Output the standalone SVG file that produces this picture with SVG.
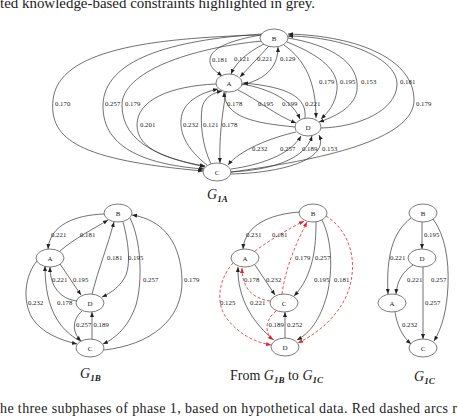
<svg xmlns="http://www.w3.org/2000/svg" width="458" height="419" viewBox="0 0 458 419">
<style>
text{font-family:"Liberation Serif","Times New Roman",serif;fill:#222}
.e{fill:none;stroke:#333;stroke-width:0.7}
.r{fill:none;stroke:#e52222;stroke-width:0.8;stroke-dasharray:3 2}
.n{fill:#fff;stroke:#444;stroke-width:0.7}
.nl{font-size:7px;text-anchor:middle}
.l{font-size:6.8px}
.lr{font-size:6.8px;fill:#e52222}
.g{font-size:14px;font-style:italic}
.s{font-size:9px;font-style:italic;font-weight:bold}
.cap{font-size:14px}
</style>
<defs>
<marker id="ah" viewBox="0 0 10 10" refX="10" refY="5" markerWidth="5" markerHeight="5" markerUnits="userSpaceOnUse" orient="auto"><path d="M0,1 L10,5 L0,9 z" fill="#222"/></marker>
<marker id="ahr" viewBox="0 0 10 10" refX="10" refY="5" markerWidth="5" markerHeight="5" markerUnits="userSpaceOnUse" orient="auto"><path d="M0,1 L10,5 L0,9 z" fill="#e52222"/></marker>
</defs>
<text class="cap" x="0" y="8" textLength="315" lengthAdjust="spacingAndGlyphs">ted knowledge-based constraints highlighted in grey.</text>
<text class="cap" x="0" y="413" textLength="457" lengthAdjust="spacing">he three subphases of phase 1, based on hypothetical data. Red dashed arcs r</text>

<g id="connectors">
<!-- G1A -->
<g marker-end="url(#ah)">
<path class="e" d="M261,35 C150,38 58,50 53,100 C49,140 80,160 203,171"/>
<path class="e" d="M262,34 C170,40 104,60 103,105 C102,150 150,165 204,169"/>
<path class="e" d="M262,41 C190,48 122,72 122,105 C122,145 165,158 205,167"/>
<path class="e" d="M216,84 C170,86 137,100 137,125 C137,150 170,160 205,166"/>
<path class="e" d="M207,165 C188,150 180,135 181,120 C182,102 200,93 218,89"/>
<path class="e" d="M211,164 C202,145 200,122 202,108 C204,98 212,93 222,91"/>
<path class="e" d="M226,92 C222,115 219,140 220,163"/>
<path class="e" d="M261,35 C232,40 208,48 210,62 C211,69 217,72 222,76"/>
<path class="e" d="M264,44 C248,52 236,62 231,74"/>
<path class="e" d="M269,46 L240,77"/>
<path class="e" d="M242,85 C262,80 278,70 278,47"/>
<path class="e" d="M284,45 C305,60 316,82 316,118"/>
<path class="e" d="M287,42 C320,55 339,70 337,90 C335,105 328,112 321,119"/>
<path class="e" d="M288,38 C330,45 360,62 357,90 C355,105 340,115 319,122"/>
<path class="e" d="M321,128 C360,127 396,110 397,85 C398,55 335,36 288,36"/>
<path class="e" d="M231,172 C320,160 414,140 414,100 C414,60 360,36 288,34"/>
<path class="e" d="M295,127 C255,123 225,118 224,92"/>
<path class="e" d="M238,90 C258,100 275,115 296,123"/>
<path class="e" d="M242,84 C270,89 292,100 300,119"/>
<path class="e" d="M305,118 C307,98 290,87 243,83"/>
<path class="e" d="M296,132 C270,138 240,150 228,165"/>
<path class="e" d="M231,169 C260,165 290,155 301,136"/>
<path class="e" d="M231,172 C270,170 305,160 312,136"/>
<path class="e" d="M231,174 C280,173 330,160 319,135"/>
</g>
<g class="l">
<text x="55" y="106">0.170</text>
<text x="105" y="106">0.257</text>
<text x="125" y="106">0.179</text>
<text x="140" y="127">0.201</text>
<text x="183" y="127">0.232</text>
<text x="203" y="127">0.121</text>
<text x="222" y="127">0.178</text>
<text x="212" y="62">0.181</text>
<text x="234" y="61">0.121</text>
<text x="257" y="61">0.221</text>
<text x="280" y="61">0.129</text>
<text x="319" y="84">0.179</text>
<text x="340" y="84">0.195</text>
<text x="361" y="84">0.153</text>
<text x="400" y="84">0.181</text>
<text x="416" y="106">0.179</text>
<text x="227" y="106">0.178</text>
<text x="258" y="106">0.195</text>
<text x="282" y="106">0.199</text>
<text x="305" y="106">0.221</text>
<text x="252" y="151">0.232</text>
<text x="280" y="151">0.257</text>
<text x="302" y="151">0.189</text>
<text x="322" y="151">0.153</text>
</g>

<!-- G1B -->
<g marker-end="url(#ah)">
<path class="e" d="M104,214 C75,215 50,225 48,249"/>
<path class="e" d="M60,251 C75,238 95,228 108,220"/>
<path class="e" d="M92,294 C98,270 108,245 114,222"/>
<path class="e" d="M123,222 C128,240 131,262 126,275 C121,286 111,293 102,297"/>
<path class="e" d="M130,218 C141,240 143,280 136,305 C129,326 116,338 103,344"/>
<path class="e" d="M104,350 C150,345 183,320 182,280 C181,245 165,220 132,215"/>
<path class="e" d="M77,301 C60,299 50,286 50,267"/>
<path class="e" d="M60,264 L81,295"/>
<path class="e" d="M37,261 C25,275 22,300 32,318 C42,333 60,340 77,344"/>
<path class="e" d="M80,341 C60,330 45,310 45,266"/>
<path class="e" d="M82,311 C72,320 72,332 81,341"/>
<path class="e" d="M92,339 L92,312"/>
</g>
<g class="l">
<text x="51" y="237">0.221</text>
<text x="80" y="237">0.181</text>
<text x="107" y="260">0.181</text>
<text x="128" y="260">0.195</text>
<text x="143" y="282">0.257</text>
<text x="184" y="282">0.179</text>
<text x="52" y="282">0.221</text>
<text x="73" y="282">0.195</text>
<text x="28" y="305">0.232</text>
<text x="57" y="305">0.178</text>
<text x="76" y="327">0.257</text>
<text x="93.5" y="327">0.189</text>
</g>

<!-- middle -->
<g marker-end="url(#ah)">
<path class="e" d="M300,212 C270,214 245,225 243,249"/>
<path class="e" d="M316,222 C316,245 314,275 294,296"/>
<path class="e" d="M322,220 C332,240 333,270 327,295 C320,320 310,333 297,340"/>
<path class="e" d="M255,265 L275,295"/>
<path class="e" d="M274,340 C255,325 237,300 238,267"/>
<path class="e" d="M285,338 L285,312"/>
</g>
<g marker-end="url(#ahr)">
<path class="r" d="M255,251 C270,240 290,228 304,221"/>
<path class="r" d="M282,294 C285,270 295,245 307,222"/>
<path class="r" d="M326,216 C345,228 355,250 352,275 C349,305 325,330 298,343"/>
<path class="r" d="M270,301 C255,299 242,290 242,268"/>
<path class="r" d="M233,263 C218,280 215,305 228,320 C240,335 255,342 271,345"/>
<path class="r" d="M276,311 C265,320 264,332 273,340"/>
</g>
<g class="l">
<text x="246" y="237">0.231</text>
<text x="315" y="260">0.257</text>
<text x="314" y="282">0.195</text>
<text x="266" y="282">0.232</text>
<text x="250" y="305">0.221</text>
<text x="287" y="327">0.252</text>
</g>
<g class="lr">
<text x="272" y="237">0.181</text>
<text x="295" y="260">0.179</text>
<text x="334" y="282">0.181</text>
<text x="244" y="282">0.178</text>
<text x="220" y="305">0.125</text>
<text x="268.5" y="327">0.189</text>
</g>

<!-- G1C -->
<g marker-end="url(#ah)">
<path class="e" d="M422,222 L422,249"/>
<path class="e" d="M411,218 C393,232 386,255 388,294"/>
<path class="e" d="M413,265 C402,272 397,282 396,294"/>
<path class="e" d="M423,267 L423,339"/>
<path class="e" d="M433,219 C445,235 449,260 448,285 C447,310 442,328 434,341"/>
<path class="e" d="M395,312 C397,325 402,336 411,344"/>
</g>
<g class="l">
<text x="424" y="237">0.195</text>
<text x="390" y="260">0.221</text>
<text x="407" y="282">0.221</text>
<text x="425" y="305">0.257</text>
<text x="431" y="282">0.257</text>
<text x="402" y="327">0.232</text>
</g>
</g>

<!-- G1A nodes -->
<g id="g1a-B"><ellipse class="n" cx="274" cy="38" rx="14" ry="9"/><text class="nl" x="274" y="40.5">B</text></g>
<g id="g1a-A"><ellipse class="n" cx="229" cy="83" rx="13" ry="9"/><text class="nl" x="229" y="85.5">A</text></g>
<g id="g1a-D"><ellipse class="n" cx="308" cy="127" rx="13" ry="9"/><text class="nl" x="308" y="129.5">D</text></g>
<g id="g1a-C"><ellipse class="n" cx="217" cy="172" rx="14" ry="9"/><text class="nl" x="217" y="174.5">C</text></g>
<!-- G1B nodes -->
<g id="g1b-B"><ellipse class="n" cx="118" cy="213" rx="14" ry="9"/><text class="nl" x="118" y="215.5">B</text></g>
<g id="g1b-A"><ellipse class="n" cx="50" cy="258" rx="14" ry="9"/><text class="nl" x="50" y="260.5">A</text></g>
<g id="g1b-D"><ellipse class="n" cx="90" cy="303" rx="14" ry="9"/><text class="nl" x="90" y="305.5">D</text></g>
<g id="g1b-C"><ellipse class="n" cx="90" cy="348" rx="14" ry="9"/><text class="nl" x="90" y="350.5">C</text></g>
<!-- middle nodes -->
<g id="mid-B"><ellipse class="n" cx="313" cy="213" rx="14" ry="9"/><text class="nl" x="313" y="215.5">B</text></g>
<g id="mid-A"><ellipse class="n" cx="245" cy="258" rx="14" ry="9"/><text class="nl" x="245" y="260.5">A</text></g>
<g id="mid-C"><ellipse class="n" cx="284" cy="303" rx="14" ry="9"/><text class="nl" x="284" y="305.5">C</text></g>
<g id="mid-D"><ellipse class="n" cx="285" cy="347" rx="14" ry="9"/><text class="nl" x="285" y="349.5">D</text></g>
<!-- G1C nodes -->
<g id="g1c-B"><ellipse class="n" cx="423" cy="213" rx="14" ry="9"/><text class="nl" x="423" y="215.5">B</text></g>
<g id="g1c-D"><ellipse class="n" cx="422" cy="258" rx="14" ry="9"/><text class="nl" x="422" y="260.5">D</text></g>
<g id="g1c-A"><ellipse class="n" cx="392" cy="303" rx="14" ry="9"/><text class="nl" x="392" y="305.5">A</text></g>
<g id="g1c-C"><ellipse class="n" cx="423" cy="348" rx="14" ry="9"/><text class="nl" x="423" y="350.5">C</text></g>

<!-- graph titles -->
<text x="207" y="199"><tspan class="g">G</tspan><tspan class="s" dy="3">1A</tspan></text>
<text x="80" y="378"><tspan class="g">G</tspan><tspan class="s" dy="3">1B</tspan></text>
<text x="230" y="380"><tspan class="cap">From </tspan><tspan class="g">G</tspan><tspan class="s" dy="3">1B</tspan><tspan class="cap" dy="-3"> to </tspan><tspan class="g">G</tspan><tspan class="s" dy="3">1C</tspan></text>
<text x="414" y="381"><tspan class="g">G</tspan><tspan class="s" dy="3">1C</tspan></text>
</svg>
